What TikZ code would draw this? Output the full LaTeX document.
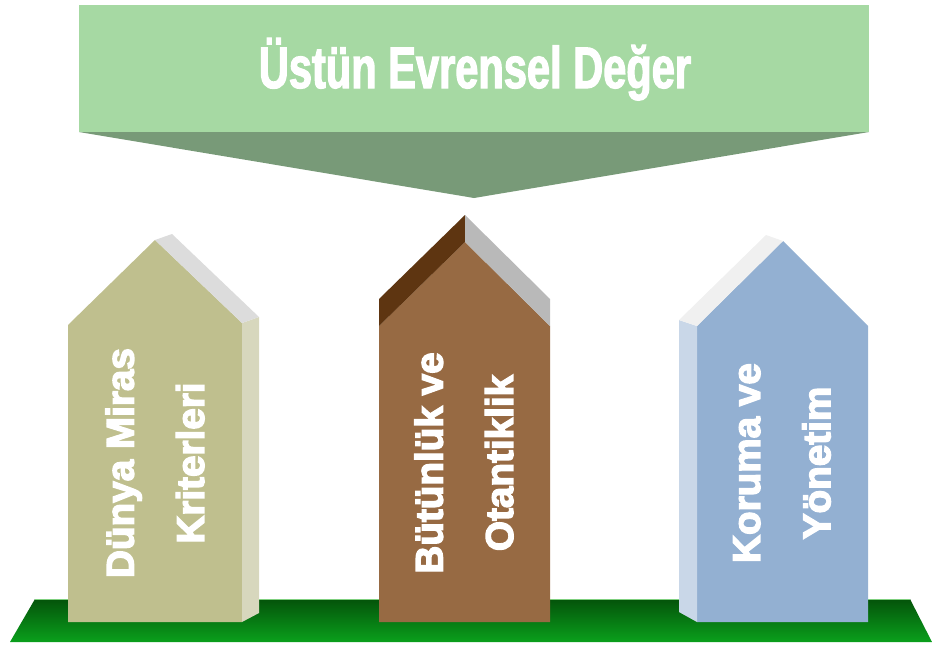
\documentclass[tikz,border=0pt]{standalone}
\usepackage{fontspec}
\usepackage{tkz-euclide}
\newfontfamily\titlefont[FakeStretch=0.71, FakeBold=2]{Liberation Sans}
\newfontfamily\pillarfont[FakeBold=3.5]{Liberation Sans}
\definecolor{bannergreen}{HTML}{A6D9A3}
\definecolor{arrowgreen}{HTML}{789A78}
\definecolor{olivefront}{HTML}{BFBF8E}
\definecolor{oliveside}{HTML}{D7D7BD}
\definecolor{oliveroof}{HTML}{DCDCDC}
\definecolor{brownfront}{HTML}{976A43}
\definecolor{browndark}{HTML}{5E3511}
\definecolor{brownroof}{HTML}{B9B9B9}
\definecolor{bluefront}{HTML}{93B0D2}
\definecolor{blueside}{HTML}{C9D7E8}
\definecolor{blueroof}{HTML}{F0F0F0}
\definecolor{groundtop}{HTML}{04530A}
\definecolor{groundbottom}{HTML}{0AA01C}
\definecolor{groundedge}{HTML}{7FD07F}

\begin{document}
\begin{tikzpicture}[
        x=0.03cm, y=-0.03cm,
        title/.style={text=white,
          font=\titlefont\bfseries\fontsize{50}{56}\selectfont},
        pillartext/.style={text=white, rotate=90, align=center,
          font=\pillarfont\bfseries\fontsize{33}{60}\selectfont}]
        % 画布大小
        \useasboundingbox (0,0) rectangle (933,645);
        % 定义标题框的点
        \tkzDefPoints{79/5/T1, 869/5/T2, 869/132/T3, 79/132/T4, 474/198/T5}
        \fill[bannergreen] (T1) -- (T2) -- (T3) -- (T4) -- cycle;
        \fill[arrowgreen] (T4) -- (T3) -- (T5) -- cycle;
        \node[title, anchor=base] (title) at (475,88) {Üstün Evrensel Değer};
        % 定义地面的点
        \tkzDefPoints{35/599/G1, 910/599/G2, 932/642/G3, 10/642/G4}
        \shade[top color=groundtop, bottom color=groundbottom]
          (G1) -- (G2) -- (G3) -- (G4) -- cycle;
        \draw[groundedge, line width=0.8pt] (G1) -- (G2);
        % 左柱
        \tkzDefPoints{68/622/L1, 68/325/L2, 155/240/L3, 242/323/L4, 242/622/L5,
          172/234/L6, 259/317/L7, 259/613/L8}
        \fill[olivefront] (L1) -- (L2) -- (L3) -- (L4) -- (L5) -- cycle;
        \fill[oliveside] (L4) -- (L7) -- (L8) -- (L5) -- cycle;
        \fill[oliveroof] (L3) -- (L6) -- (L7) -- (L4) -- cycle;
        \node[pillartext] (left) at (155,463) {Dünya Miras\\Kriterleri};
        % 中柱
        \tkzDefPoints{379/622/M1, 379/326/M2, 465/242/M3, 550/326/M4, 550/622/M5,
          379/299/M6, 465/215/M7, 550/299/M8}
        \fill[brownfront] (M1) -- (M2) -- (M3) -- (M4) -- (M5) -- cycle;
        \fill[browndark] (M2) -- (M6) -- (M7) -- (M3) -- cycle;
        \fill[brownroof] (M3) -- (M7) -- (M8) -- (M4) -- cycle;
        \node[pillartext] (middle) at (464,463) {Bütünlük ve\\Otantiklik};
        % 右柱
        \tkzDefPoints{697/622/R1, 697/326/R2, 783/241/R3, 868/326/R4, 868/622/R5,
          766/235/R6, 679/320/R7, 679/612/R8}
        \fill[bluefront] (R1) -- (R2) -- (R3) -- (R4) -- (R5) -- cycle;
        \fill[blueside] (R2) -- (R7) -- (R8) -- (R1) -- cycle;
        \fill[blueroof] (R3) -- (R6) -- (R7) -- (R2) -- cycle;
        \node[pillartext] (right) at (782,463) {Koruma ve\\Yönetim};
      \end{tikzpicture}
\end{document}
